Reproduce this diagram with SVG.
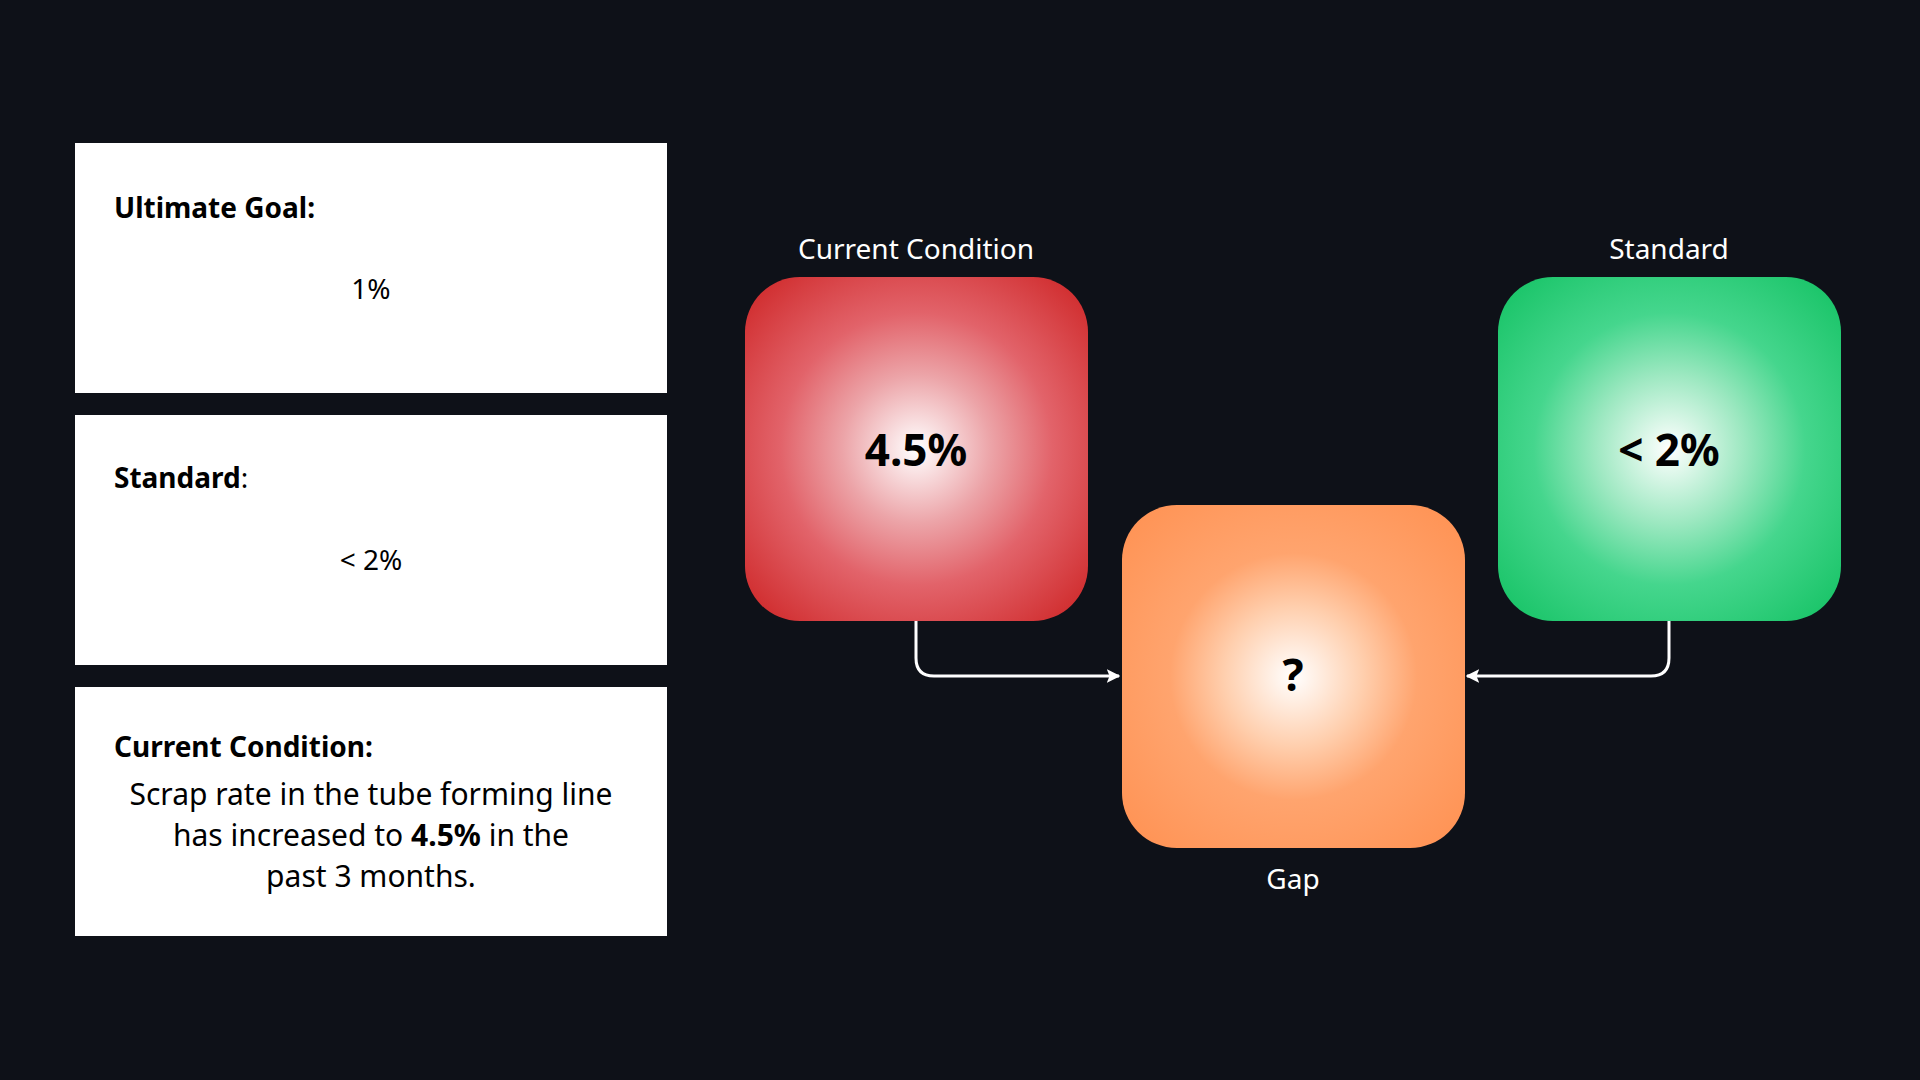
<svg xmlns="http://www.w3.org/2000/svg" width="1920" height="1080" viewBox="0 0 1920 1080">
<style>
.card{fill:#ffffff}
.t{font-family:"Noto Sans","Open Sans",sans-serif;fill:#000}
.h{font-size:28px;font-weight:700}
.b{font-size:28px}
.body{font-size:30px}
.lbl{font-family:"Noto Sans","Open Sans",sans-serif;fill:#fff;font-size:28px;text-anchor:middle}
.big{font-family:"Noto Sans","Open Sans",sans-serif;font-size:44px;font-weight:700;text-anchor:middle;fill:#000}
.conn{fill:none;stroke:#fff;stroke-width:3}
</style>
<defs>
<radialGradient id="gRed" cx="50%" cy="50%" r="72%">
<stop offset="0" stop-color="#ffffff"/>
<stop offset="0.3" stop-color="#eca4a8"/>
<stop offset="0.55" stop-color="#e2636a"/>
<stop offset="1" stop-color="#cc2020"/>
</radialGradient>
<radialGradient id="gGreen" cx="50%" cy="50%" r="72%">
<stop offset="0" stop-color="#ffffff"/>
<stop offset="0.3" stop-color="#9de8c1"/>
<stop offset="0.55" stop-color="#45d68d"/>
<stop offset="1" stop-color="#10c060"/>
</radialGradient>
<radialGradient id="gOrange" cx="50%" cy="50%" r="72%">
<stop offset="0" stop-color="#ffffff"/>
<stop offset="0.28" stop-color="#ffcfae"/>
<stop offset="0.5" stop-color="#ffa46e"/>
<stop offset="1" stop-color="#ff9050"/>
</radialGradient>
<marker id="arr" viewBox="0 0 10 10" refX="9" refY="5" markerWidth="4.5" markerHeight="4.5" orient="auto-start-reverse" markerUnits="strokeWidth">
<path d="M0,0 L10,5 L0,10 L2,5 Z" fill="#fff"/>
</marker>
</defs>
<rect width="1920" height="1080" fill="#0e1118"/>

<g id="card-goal">
<rect class="card" x="75" y="143" width="592" height="250"/>
<text class="t h" x="114" y="218">Ultimate Goal:</text>
<text class="t b" x="371" y="299" text-anchor="middle">1%</text>
</g>
<g id="card-standard">
<rect class="card" x="75" y="415" width="592" height="250"/>
<text class="t h" x="114" y="488">Standard<tspan font-weight="400">:</tspan></text>
<text class="t b" x="371" y="570" text-anchor="middle">&lt; 2%</text>
</g>
<g id="card-current">
<rect class="card" x="75" y="687" width="592" height="249"/>
<text class="t h" x="114" y="757">Current Condition:</text>
<text class="t body" x="371" y="805" text-anchor="middle">Scrap rate in the tube forming line</text>
<text class="t body" x="371" y="846" text-anchor="middle">has increased to <tspan font-weight="700">4.5%</tspan> in the</text>
<text class="t body" x="371" y="887" text-anchor="middle">past 3 months.</text>
</g>

<g id="connectors">
<path class="conn" d="M916,621 V658 Q916,676 934,676 H1119" marker-end="url(#arr)"/>
<path class="conn" d="M1669,621 V658 Q1669,676 1651,676 H1467" marker-end="url(#arr)"/>
</g>

<g id="node-current">
<text class="lbl" x="916" y="259">Current Condition</text>
<rect x="745" y="277" width="343" height="344" rx="55" fill="url(#gRed)"/>
<text class="big" x="916" y="466">4.5%</text>
</g>
<g id="node-standard">
<text class="lbl" x="1669" y="259">Standard</text>
<rect x="1498" y="277" width="343" height="344" rx="55" fill="url(#gGreen)"/>
<text class="big" x="1669" y="466">&lt; 2%</text>
</g>
<g id="node-gap">
<rect x="1122" y="505" width="343" height="343" rx="55" fill="url(#gOrange)"/>
<text class="big" x="1293" y="691">?</text>
<text class="lbl" x="1293" y="889">Gap</text>
</g>
</svg>
